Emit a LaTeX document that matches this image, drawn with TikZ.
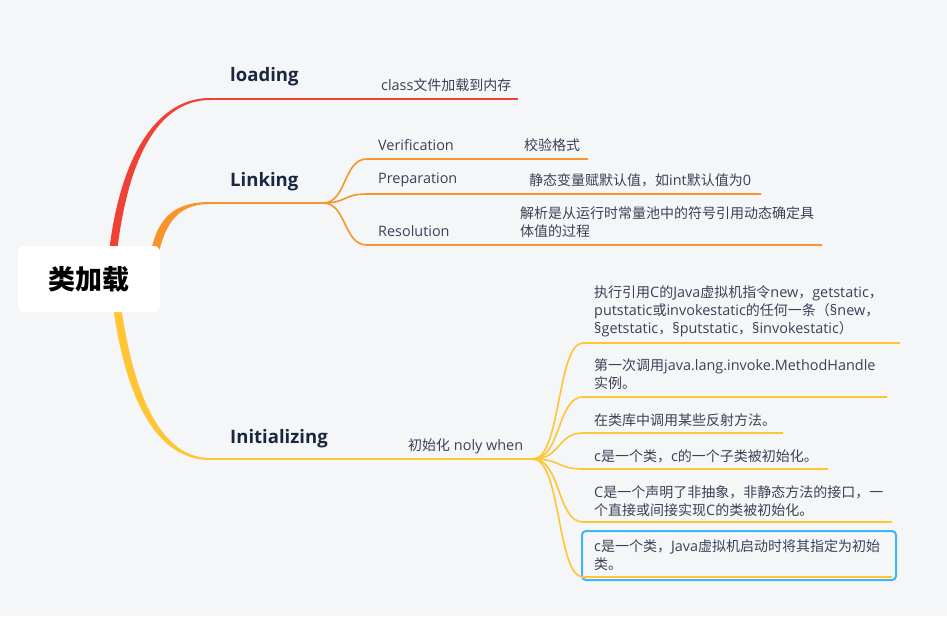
\documentclass[tikz,border=0pt]{standalone}
\usepackage{fontspec}
\usetikzlibrary{calc}
\setmainfont{Open Sans}[Scale=1.03]
\newfontfamily\cjk{Noto Sans CJK SC}
\newcommand\zh[1]{{\cjk #1}}
\definecolor{bgc}{HTML}{F5F6F8}
\definecolor{redc}{HTML}{EF4136}
\definecolor{orc}{HTML}{F7952B}
\definecolor{yelc}{HTML}{FFC533}
\definecolor{bluec}{HTML}{42B6F4}
\definecolor{titc}{HTML}{1B2640}
\definecolor{txtc}{HTML}{3A4256}
\tikzset{
  tit/.style={anchor=west,inner sep=0pt,text=titc,font=\fontsize{18}{22}\selectfont\bfseries},
  txt/.style={anchor=west,inner sep=0pt,text=txtc,align=left,font=\fontsize{14}{18}\selectfont},
  redline/.style={draw=redc,line width=2pt},
  orline/.style={draw=orc,line width=1.6pt},
  yelline/.style={draw=yelc,line width=1.6pt},
}
\begin{document}
\begin{tikzpicture}[x=1pt,y=-1pt]
\useasboundingbox[fill=bgc] (0,0) rectangle (947,616);
% trunks (tapered)
\fill[redc] (109,252) .. controls (121,150) and (160,97.8) .. (210,98) -- (210,100) .. controls (162,100.2) and (129,150) .. (117,252) -- cycle;
\fill[orc] (151,252) .. controls (158,213) and (180,201.9) .. (210,202) -- (210,204) .. controls (182,204.1) and (167,218) .. (159,252) -- cycle;
\fill[yelc] (113,306) .. controls (126,402) and (158,460.1) .. (210,460) -- (210,458) .. controls (162,457.9) and (134,398) .. (121,306) -- cycle;
% root
\node[fill=white,rounded corners=6pt,minimum width=142pt,minimum height=66pt,inner sep=0pt] (root) at (89,279) {};
\node[inner sep=0pt,font=\fontsize{27}{30}\selectfont\bfseries\cjk,text=black] (roottxt) at (89,279) {类加载};
% main branch coordinates
\coordinate (l0) at (210,99); \coordinate (l1) at (518,99);
\coordinate (k0) at (210,203); \coordinate (kj) at (323,203);
\coordinate (i0) at (210,459); \coordinate (ij) at (533,459);
\draw[redline] (l0) -- (l1);
\draw[orc,line width=2pt] (k0) -- (kj);
\draw[yelc,line width=2pt] (i0) -- (ij);
\node[tit] (loading) at (230,77) {loading};
\node[tit] (linking) at (230,182) {Linking};
\node[tit] (init) at (230,439) {Initializing};
\node[txt] (loadtxt) at (381,85) {class\zh{文件加载到内存}};
\node[txt] (inittxt) at (408,446) {\zh{初始化} noly when};
% linking children
\coordinate (v0) at (367,159); \coordinate (v1) at (588,159);
\coordinate (p0) at (367,194); \coordinate (p1) at (761,194);
\coordinate (r0) at (367,245); \coordinate (r1) at (822,245);
\foreach \a/\b in {v0/v1,p0/p1,r0/r1}{
  \draw[orline] (kj) .. controls ($(kj)+(24,0)$) and ($(\a)+(-24,0)$) .. (\a) -- (\b);
}
\node[txt] (ver) at (378,145) {Verification};
\node[txt] (vert) at (524,145) {\zh{校验格式}};
\node[txt] (pre) at (378,180) {Preparation};
\node[txt] (pret) at (529,180) {\zh{静态变量赋默认值，如}int\zh{默认值为}0};
\node[txt] (res) at (378,231) {Resolution};
\node[txt] (rest) at (520,222) {\zh{解析是从运行时常量池中的符号引用动态确定具}\\\zh{体值的过程}};
% initializing children
\draw[bluec,line width=2pt,rounded corners=4pt] (582,531) rectangle (896,580);
\coordinate (c1a) at (583,343); \coordinate (c1b) at (900,343);
\coordinate (c2a) at (583,397); \coordinate (c2b) at (887,397);
\coordinate (c3a) at (583,433); \coordinate (c3b) at (783,433);
\coordinate (c4a) at (583,469); \coordinate (c4b) at (828,469);
\coordinate (c5a) at (583,522); \coordinate (c5b) at (892,522);
\coordinate (c6a) at (583,577); \coordinate (c6b) at (892,577);
\foreach \a/\b in {c1a/c1b,c2a/c2b,c3a/c3b,c4a/c4b,c5a/c5b,c6a/c6b}{
  \draw[yelline] (ij) .. controls ($(ij)+(28,0)$) and ($(\a)+(-26,0)$) .. (\a) -- (\b);
}
\node[txt] (t1) at (594,311) {\zh{执行引用}C\zh{的}Java\zh{虚拟机指令}new\zh{，}getstatic\zh{，}\\putstatic\zh{或}invokestatic\zh{的任何一条（}§new\zh{，}\\§getstatic\zh{，}§putstatic\zh{，}§invokestatic\zh{）}};
\node[txt] (t2) at (594,374) {\zh{第一次调用}java.lang.invoke.MethodHandle\\\zh{实例。}};
\node[txt] (t3) at (594,420) {\zh{在类库中调用某些反射方法。}};
\node[txt] (t4) at (594,456) {c\zh{是一个类，}c\zh{的一个子类被初始化。}};
\node[txt] (t5) at (594,501) {C\zh{是一个声明了非抽象，非静态方法的接口，一}\\\zh{个直接或间接实现}C\zh{的类被初始化。}};
\node[txt] (t6) at (594,555) {c\zh{是一个类，}Java\zh{虚拟机启动时将其指定为初始}\\\zh{类。}};
\end{tikzpicture}
\end{document}
